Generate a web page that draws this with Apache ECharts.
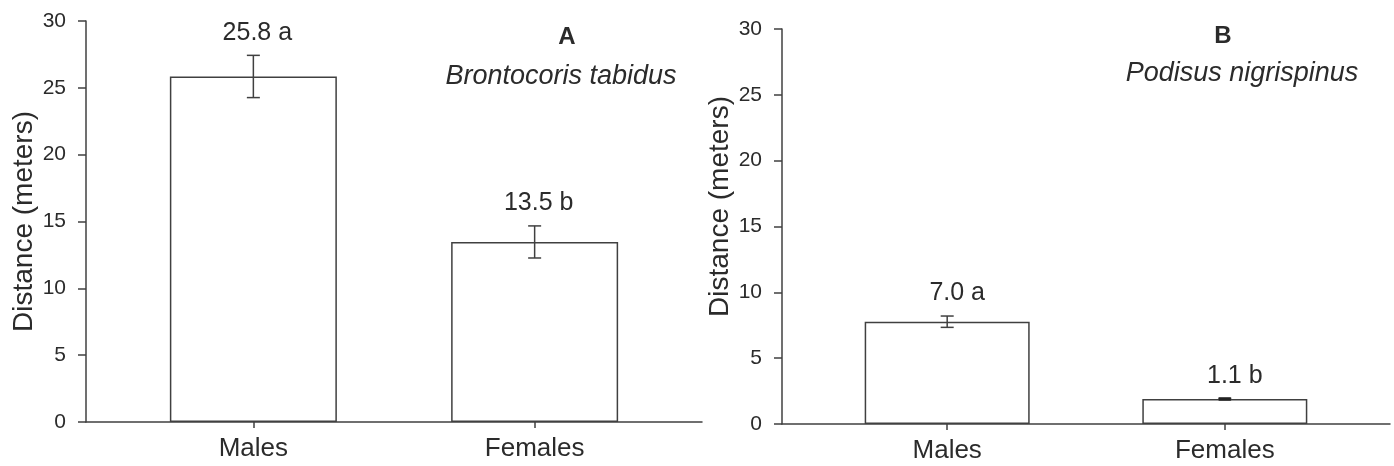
<!DOCTYPE html>
<html>
<head>
<meta charset="utf-8">
<script src="https://cdn.jsdelivr.net/npm/echarts@6/dist/echarts.min.js"></script>
<style>
  html, body { margin: 0; padding: 0; background: #fff; }
  #chart { width: 1394px; height: 466px; }
</style>
</head>
<body>
<div id="chart"></div>
<script>
// 数据
var categories = ['Males', 'Females'];
var yTicks = [0, 5, 10, 15, 20, 25, 30];

var meansA = [25.85, 13.47];
var seA = [1.58, 1.2];
var labelsA = ['25.8 a', '13.5 b'];

var meansB = [7.77, 1.9];
var seB = [0.43, 0.05];
var labelsB = ['7.0 a', '1.1 b'];

var font = 'Liberation Sans, Arial, sans-serif';
var ink = '#2b2b2b';
var lineColor = '#404040';

var chart = echarts.init(document.getElementById('chart'));

function xAxisFor(gridIndex) {
    return {
        type: 'value',
        gridIndex: gridIndex,
        min: -0.595, //让柱子离坐标轴有距离
        max: 1.595,
        splitLine: { show: false },
        axisLine: { onZero: false, lineStyle: { color: lineColor, width: 1.5 } },
        axisTick: {
            customValues: [0, 1],
            length: 6,
            lineStyle: { color: lineColor, width: 1.5 }
        },
        axisLabel: {
            customValues: [0, 1],
            formatter: function (v) { return categories[Math.round(v)]; },
            fontSize: 26,
            fontFamily: font,
            color: ink,
            margin: 14
        }
    };
}

function yAxisFor(gridIndex, namePad) {
    return {
        type: 'value',
        gridIndex: gridIndex,
        min: yTicks[0],
        max: yTicks[yTicks.length - 1],
        interval: 5,
        name: 'Distance (meters)',
        nameLocation: 'middle',
        nameGap: 46,
        nameTextStyle: {
            fontSize: 28,
            fontFamily: font,
            color: ink,
            padding: namePad
        },
        splitLine: { show: false },
        axisLine: { show: true, onZero: false, lineStyle: { color: lineColor, width: 1.5 } },
        axisTick: { show: true, length: 8, lineStyle: { color: lineColor, width: 1.5 } },
        axisLabel: { fontSize: 21, fontFamily: font, color: ink, margin: 20 }
    };
}

function barSeries(idx, means, width) {
    return {
        type: 'bar',
        xAxisIndex: idx,
        yAxisIndex: idx,
        barWidth: width,
        data: means.map(function (m, i) { return [i, m]; }),
        itemStyle: { color: '#fff', borderColor: lineColor, borderWidth: 1.5 },
        silent: true,
        z: 2
    };
}

function errorSeries(idx, means, se, labels, dx) {
    return {
        type: 'custom',
        xAxisIndex: idx,
        yAxisIndex: idx,
        data: means.map(function (m, i) { return [i, m, se[i], labels[i]]; }),
        z: 3,
        renderItem: function (params, api) {
            var x = api.value(0), m = api.value(1), s = api.value(2);
            var top = api.coord([x, m + s]);
            var bot = api.coord([x, m - s]);
            var cap = 6.5;
            var st = { stroke: lineColor, lineWidth: 1.5 };
            var children = [
                { type: 'line', shape: { x1: top[0], y1: top[1], x2: bot[0], y2: bot[1] }, style: st },
                { type: 'line', shape: { x1: top[0] - cap, y1: top[1], x2: top[0] + cap, y2: top[1] }, style: st },
                { type: 'line', shape: { x1: bot[0] - cap, y1: bot[1], x2: bot[0] + cap, y2: bot[1] }, style: st }
            ];
            if (s < 0.1) { // 误差很小时画成粗短线
                children.push({ type: 'rect', shape: { x: top[0] - 6, y: top[1] - 1, width: 12, height: bot[1] - top[1] + 2 },
                    style: { fill: '#222' } });
            }
            children.push({
                type: 'text',
                style: {
                    text: labels[params.dataIndex],
                    x: top[0] + dx,
                    y: top[1] - 10,
                    align: 'center',
                    verticalAlign: 'bottom',
                    fontSize: 25,
                    fontFamily: font,
                    fill: ink
                }
            });
            return { type: 'group', children: children };
        }
    };
}

function panelText(text, x, y, weight, style) {
    return {
        type: 'text',
        x: x,
        y: y,
        style: {
            text: text,
            align: 'center',
            verticalAlign: 'middle',
            fontSize: weight === 'bold' ? 24 : 27,
            fontWeight: weight,
            fontStyle: style,
            fontFamily: font,
            fill: ink
        }
    };
}

var option = {
    animation: false,
    backgroundColor: '#fff',
    grid: [
        { left: 86, right: 692, top: 21, bottom: 44 },
        { left: 782, right: 4, top: 29, bottom: 42 }
    ],
    xAxis: [xAxisFor(0), xAxisFor(1)],
    yAxis: [yAxisFor(0, [0, 0, 0, 0]), yAxisFor(1, [0, 0, 0, 40])],
    series: [
        barSeries(0, meansA, 167),
        errorSeries(0, meansA, seA, labelsA, 4),
        barSeries(1, meansB, 165),
        errorSeries(1, meansB, seB, labelsB, 10)
    ],
    graphic: [
        panelText('A', 567, 37, 'bold', 'normal'),
        panelText('Brontocoris tabidus', 561, 76, 'normal', 'italic'),
        panelText('B', 1223, 36, 'bold', 'normal'),
        panelText('Podisus nigrispinus', 1242, 73, 'normal', 'italic')
    ]
};

chart.setOption(option);
</script>
</body>
</html>
